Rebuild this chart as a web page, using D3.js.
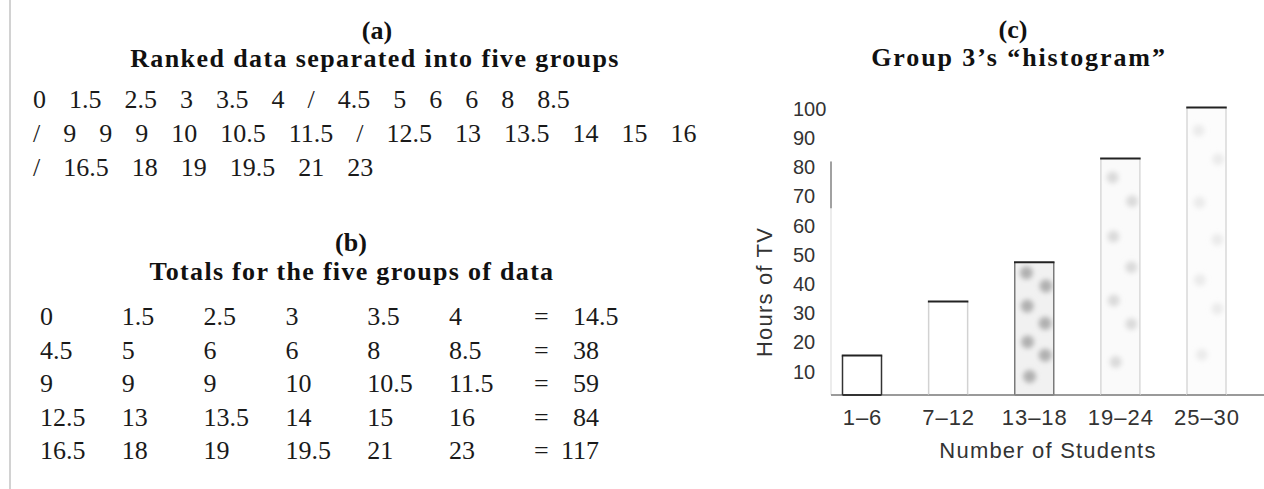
<!DOCTYPE html>
<html><head><meta charset="utf-8">
<script src="https://cdn.jsdelivr.net/npm/d3@7"></script>
<style>
html,body{margin:0;padding:0;background:#fff;}
svg{display:block;}
</style></head><body>
<svg id="chart" width="1264" height="489"></svg>
<script>
// ---------------- data ----------------
const panelLetters = ["(a)", "(b)", "(c)"];
const panelTitles = ["Ranked data separated into five groups", "Totals for the five groups of data", "Group 3\u2019s \u201chistogram\u201d"];
const group1 = [0, 1.5, 2.5, 3, 3.5, 4];
const group2 = [4.5, 5, 6, 6, 8, 8.5];
const group3 = [9, 9, 9, 10, 10.5, 11.5];
const group4 = [12.5, 13, 13.5, 14, 15, 16];
const group5 = [16.5, 18, 19, 19.5, 21, 23];
const groupTotals = [14.5, 38, 59, 84, 117];
const classes = ["1\u20136", "7\u201312", "13\u201318", "19\u201324", "25\u201330"];
const hoursOfTV = [15.5, 34, 47.5, 83, 100.5];
const yTicks = [10, 20, 30, 40, 50, 60, 70, 80, 90, 100];
const xTitle = "Number of Students";
const yTitle = "Hours of TV";

// ---------------- styles ----------------
const serif = "'Liberation Serif','Times New Roman',serif";
const sans = "'Liberation Sans',Arial,Helvetica,sans-serif";
const barLook = [
  {fill: "#ffffff", side: "#333", bottom: "#333", blob: null, r: 0},
  {fill: "#ffffff", side: "#d2d2d2", bottom: "#999", blob: null, r: 0},
  {fill: "#f1f1f1", side: "#7a7a7a", bottom: "#888", blob: "#b0b0b0", r: 6.5},
  {fill: "#fafafa", side: "#d8d8d8", bottom: "#999", blob: "#dadada", r: 6},
  {fill: "#fcfcfc", side: "#d8d8d8", bottom: "#999", blob: "#ebebeb", r: 6}
];
const blobSpots = [[0.3,0.08],[0.8,0.18],[0.32,0.33],[0.78,0.46],[0.33,0.6],[0.78,0.7],[0.38,0.86]];

const svg = d3.select("#chart");
svg.append("rect").attr("width", 1264).attr("height", 489).attr("fill", "#fff");
svg.append("line").attr("x1", 10).attr("x2", 10).attr("y1", 0).attr("y2", 489)
  .attr("stroke", "#d2d2d2").attr("stroke-width", 2);

const defs = svg.append("defs");
defs.append("filter").attr("id", "soft").attr("x", "-50%").attr("y", "-50%").attr("width", "200%").attr("height", "200%")
  .append("feGaussianBlur").attr("stdDeviation", 2.4);

function heading(x, y, text, size, ls) {
  return svg.append("text").attr("x", x).attr("y", y).attr("text-anchor", "middle")
    .attr("font-family", serif).attr("font-weight", "bold").attr("font-size", size)
    .attr("letter-spacing", ls).attr("fill", "#111").text(text);
}

// ---------------- panel (a) ----------------
heading(377, 39, panelLetters[0], 26, 0);
heading(375, 67, panelTitles[0], 26, 1.4);
const lines = [[...group1, "/", ...group2], ["/", ...group3, "/", ...group4], ["/", ...group5]];
const rowY = d3.scalePoint().domain(d3.range(lines.length)).range([108, 176]);
lines.forEach((tokens, i) => {
  const t = svg.append("text").attr("x", 33).attr("y", rowY(i))
    .attr("font-family", serif).attr("font-size", 26).attr("fill", "#1a1a1a");
  t.selectAll("tspan").data(tokens).join("tspan")
    .attr("dx", (d, j) => j ? 23 : 0).text(d => String(d));
});

// ---------------- panel (b) ----------------
heading(351, 251, panelLetters[1], 26, 0);
heading(352, 280, panelTitles[1], 26, 1.3);
const groups = [group1, group2, group3, group4, group5];
const colX = d3.scalePoint().domain(d3.range(6)).range([40, 449]);
const tblY = d3.scalePoint().domain(d3.range(groups.length)).range([325, 459]);
const tbl = svg.append("g").attr("font-family", serif).attr("font-size", 26).attr("fill", "#1a1a1a");
groups.forEach((g, i) => {
  g.forEach((v, j) => {
    tbl.append("text").attr("x", colX(j)).attr("y", tblY(i)).text(String(v));
  });
  tbl.append("text").attr("x", 534).attr("y", tblY(i)).text("=");
  const parts = String(groupTotals[i]).split(".");
  tbl.append("text").attr("x", 599).attr("y", tblY(i)).attr("text-anchor", "end").text(parts[0]);
  if (parts[1]) tbl.append("text").attr("x", 599).attr("y", tblY(i)).text("." + parts[1]);
});

// ---------------- panel (c) ----------------
heading(1013, 38, panelLetters[2], 26, 0);
heading(1019, 66, panelTitles[2], 26, 1.9);

const x = d3.scalePoint().domain(classes).range([862, 1206.5]);
const y = d3.scaleLinear().domain([2, 100]).range([395, 109]);
const barW = 39;
const y0 = y.range()[0];

// y axis line (faint with darker piece)
svg.append("line").attr("x1", 831).attr("x2", 831).attr("y1", y0).attr("y2", y(82))
  .attr("stroke", "#e6e6e6").attr("stroke-width", 1.5);
svg.append("line").attr("x1", 831).attr("x2", 831).attr("y1", y(82)).attr("y2", y(66))
  .attr("stroke", "#888").attr("stroke-width", 1.5);

// x axis baseline
svg.append("line").attr("x1", 831).attr("x2", 1264).attr("y1", y0).attr("y2", y0)
  .attr("stroke", "#9a9a9a").attr("stroke-width", 2);

// bars
const bars = svg.append("g");
hoursOfTV.forEach((v, i) => {
  const look = barLook[i];
  const bx = x(classes[i]) - barW / 2, by = y(v), bh = y0 - y(v);
  const cid = "clip" + i;
  defs.append("clipPath").attr("id", cid).append("rect")
    .attr("x", bx).attr("y", by).attr("width", barW).attr("height", bh);
  bars.append("rect").attr("x", bx).attr("y", by).attr("width", barW).attr("height", bh).attr("fill", look.fill);
  if (look.blob) {
    bars.append("g").attr("clip-path", `url(#${cid})`).append("g").attr("filter", "url(#soft)")
      .selectAll("circle").data(blobSpots).join("circle")
      .attr("cx", d => bx + d[0] * barW).attr("cy", d => by + d[1] * bh)
      .attr("r", look.r).attr("fill", look.blob);
  }
  bars.append("line").attr("x1", bx).attr("x2", bx).attr("y1", by).attr("y2", y0).attr("stroke", look.side).attr("stroke-width", 1.5);
  bars.append("line").attr("x1", bx + barW).attr("x2", bx + barW).attr("y1", by).attr("y2", y0).attr("stroke", look.side).attr("stroke-width", 1.5);
  bars.append("line").attr("x1", bx - 0.75).attr("x2", bx + barW + 0.75).attr("y1", by).attr("y2", by).attr("stroke", "#222").attr("stroke-width", 2);
  bars.append("line").attr("x1", bx).attr("x2", bx + barW).attr("y1", y0).attr("y2", y0).attr("stroke", look.bottom).attr("stroke-width", 2);
});

// y axis labels
const gy = svg.append("g").attr("transform", "translate(793,0)")
  .call(d3.axisLeft(y).tickValues(yTicks).tickSize(0).tickPadding(0));
gy.select(".domain").remove();
gy.attr("font-family", sans).attr("font-size", 20).attr("color", "#333");
gy.selectAll("text").attr("text-anchor", "start").attr("x", 0);

// x axis labels
const gx = svg.append("g").attr("transform", `translate(0,${y0})`)
  .call(d3.axisBottom(x).tickSize(0).tickPadding(14));
gx.select(".domain").remove();
gx.attr("font-family", sans).attr("font-size", 22).attr("color", "#333");
gx.selectAll("text").attr("letter-spacing", 1);

// axis titles
svg.append("text").attr("transform", "translate(772,292) rotate(-90)").attr("text-anchor", "middle")
  .attr("font-family", sans).attr("font-size", 22).attr("letter-spacing", 1.2).attr("fill", "#333").text(yTitle);
svg.append("text").attr("x", 1048).attr("y", 458).attr("text-anchor", "middle")
  .attr("font-family", sans).attr("font-size", 22).attr("letter-spacing", 1.2).attr("fill", "#333").text(xTitle);
</script>
</body></html>
